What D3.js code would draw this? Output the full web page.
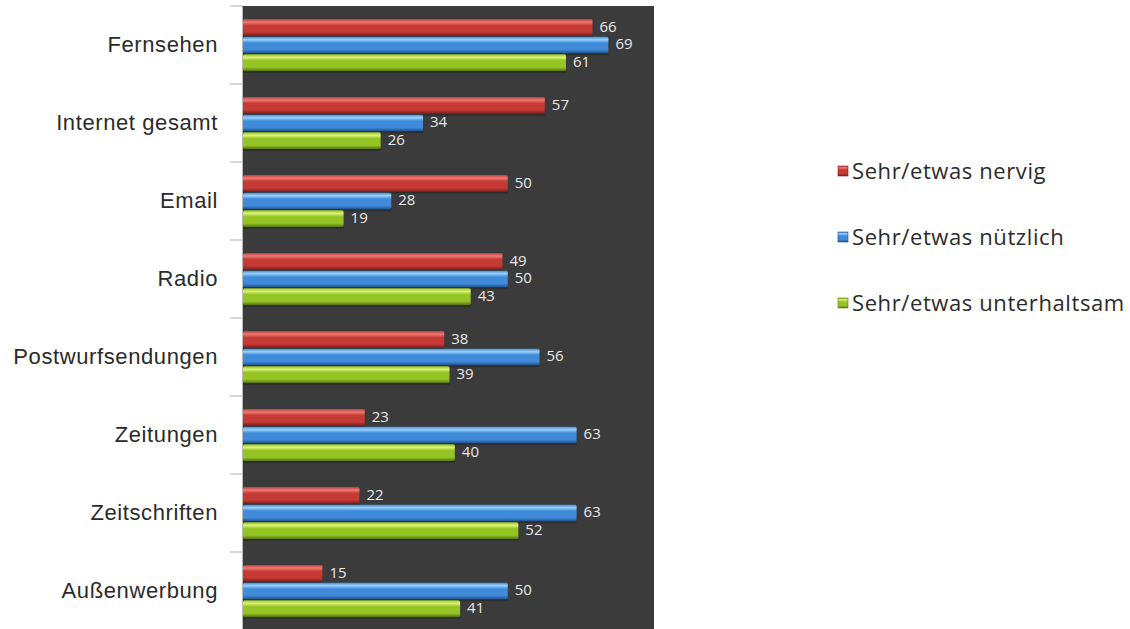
<!DOCTYPE html>
<html>
<head>
<meta charset="utf-8">
<script src="https://cdn.jsdelivr.net/npm/d3@7"></script>
<style>
  html, body { margin: 0; padding: 0; background: #fff; }
  svg { display: block; font-family: "Open Sans", sans-serif; }
</style>
</head>
<body>
<svg id="chart" width="1130" height="629"></svg>
<script>
// data
const categories = ["Fernsehen", "Internet gesamt", "Email", "Radio",
  "Postwurfsendungen", "Zeitungen", "Zeitschriften", "Außenwerbung"];
const seriesNames = ["Sehr/etwas nervig", "Sehr/etwas nützlich", "Sehr/etwas unterhaltsam"];
const nervig       = [66, 57, 50, 49, 38, 23, 22, 15];
const nuetzlich    = [69, 34, 28, 50, 56, 63, 63, 50];
const unterhaltsam = [61, 26, 19, 43, 39, 40, 52, 41];

const seriesValues = [nervig, nuetzlich, unterhaltsam];
const colors = [
  { light: "#ee7b74", main: "#c53a35", dark: "#7e1e1c" },
  { light: "#9bd0fb", main: "#3f8ad9", dark: "#1f4f8c" },
  { light: "#dcf27a", main: "#95c425", dark: "#567512" }
];

const svg = d3.select("#chart");
const plot = { left: 242, top: 6, right: 654, bottom: 630 };

const y0 = d3.scaleBand()
  .domain(categories)
  .range([plot.top, plot.bottom])
  .padding(0);

const y1 = d3.scaleBand()
  .domain(seriesNames)
  .range([0, y0.bandwidth()])
  .paddingInner(0.06)
  .paddingOuter(0.74);

const x = d3.scaleLinear()
  .domain([0, 77.8])
  .range([plot.left, plot.right]);

// gradients for the glossy cylinder look
const defs = svg.append("defs");
colors.forEach((c, i) => {
  const g = defs.append("linearGradient")
    .attr("id", "grad" + i)
    .attr("x1", 0).attr("y1", 0).attr("x2", 0).attr("y2", 1);
  g.append("stop").attr("offset", "0%").attr("stop-color", c.main);
  g.append("stop").attr("offset", "18%").attr("stop-color", c.light);
  g.append("stop").attr("offset", "38%").attr("stop-color", c.main);
  g.append("stop").attr("offset", "78%").attr("stop-color", c.main);
  g.append("stop").attr("offset", "100%").attr("stop-color", c.dark);
});

// plot background
svg.append("rect")
  .attr("x", plot.left)
  .attr("y", plot.top)
  .attr("width", plot.right - plot.left)
  .attr("height", plot.bottom - plot.top)
  .attr("fill", "#3b3b3b");

// category axis
const yAxis = svg.append("g")
  .attr("transform", `translate(${plot.left},0)`)
  .call(d3.axisLeft(y0).tickSize(0).tickPadding(24));
yAxis.select(".domain").attr("stroke", "#b8b8b8");
yAxis.selectAll("text")
  .attr("fill", "#2b2b2b")
  .style("font-size", "22px")
  .style("letter-spacing", "0.6px");

// tick marks between categories
svg.append("g")
  .selectAll("line")
  .data(categories)
  .join("line")
  .attr("x1", plot.left - 12)
  .attr("x2", plot.left)
  .attr("y1", d => y0(d))
  .attr("y2", d => y0(d))
  .attr("stroke", "#b0b0b0");

// bars
const groups = svg.append("g")
  .selectAll("g")
  .data(categories)
  .join("g")
  .attr("transform", d => `translate(0,${y0(d)})`);

const cells = groups.selectAll("g")
  .data((d, ci) => seriesNames.map((s, si) => ({ s, si, v: seriesValues[si][ci] })))
  .join("g");

cells.append("rect")
  .attr("x", x(0) + 1)
  .attr("y", d => y1(d.s) + 2)
  .attr("width", d => x(d.v) - x(0))
  .attr("height", y1.bandwidth())
  .attr("fill", "#222")
  .attr("opacity", 0.5);

cells.append("rect")
  .attr("x", x(0) + 1)
  .attr("y", d => y1(d.s))
  .attr("width", d => x(d.v) - x(0))
  .attr("height", y1.bandwidth())
  .attr("rx", 1.5)
  .attr("fill", d => `url(#grad${d.si})`);

cells.append("text")
  .attr("x", d => x(d.v) + 8)
  .attr("y", d => y1(d.s) + y1.bandwidth() / 2 - 1)
  .attr("dy", "0.35em")
  .attr("fill", "#e8e8e8")
  .style("font-size", "15px")
  .text(d => d.v);

// legend
const legend = svg.append("g")
  .selectAll("g")
  .data(seriesNames)
  .join("g")
  .attr("transform", (d, i) => `translate(838,${171 + i * 66})`);

legend.append("rect")
  .attr("x", 0).attr("y", -5)
  .attr("width", 10).attr("height", 10)
  .attr("fill", (d, i) => `url(#grad${i})`)
  .attr("stroke", (d, i) => colors[i].dark)
  .attr("stroke-width", 0.6);

legend.append("text")
  .attr("x", 14)
  .attr("dy", "0.35em")
  .attr("fill", "#2b2b2b")
  .style("font-size", "22px")
  .style("letter-spacing", "0.6px")
  .text(d => d);
</script>
</body>
</html>
